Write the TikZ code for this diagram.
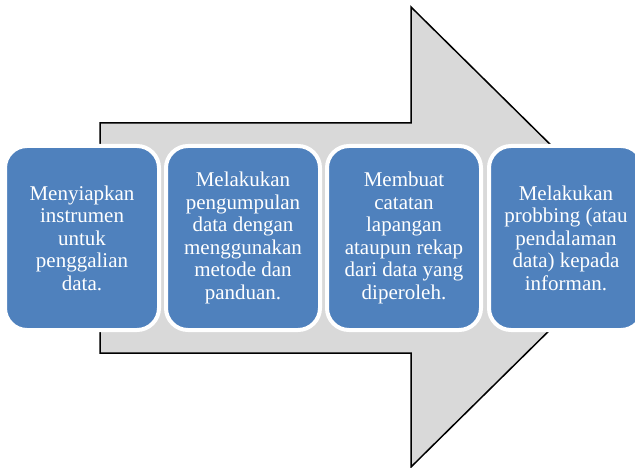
\documentclass[tikz,border=0pt]{standalone}
\usepackage{fontspec}
\setmainfont{Liberation Serif}
\definecolor{boxblue}{HTML}{4F81BD}
\definecolor{arrowgray}{HTML}{D9D9D9}
\begin{document}
\begin{tikzpicture}[x=1pt,y=-1pt,
  stepbox/.style={rectangle, rounded corners=22pt, minimum width=154pt, minimum height=184pt,
    fill=boxblue, draw=white, line width=4pt, text=white, align=center, inner sep=0pt,
    font=\fontsize{21}{22.5}\selectfont}]
\useasboundingbox (0,0) rectangle (635,468);
\filldraw[fill=arrowgray, draw=black, line width=1.5pt, line join=miter]
  (100,123) -- (411,123) -- (411,7) -- (644,237) -- (411,467) -- (411,353) -- (100,353) -- cycle;
\node[stepbox] (s1) at (82,238) {Menyiapkan\\instrumen\\untuk\\penggalian\\data.};
\node[stepbox] (s2) at (243,238) {Melakukan\\pengumpulan\\data dengan\\menggunakan\\metode dan\\panduan.};
\node[stepbox] (s3) at (404,238) {Membuat\\catatan\\lapangan\\ataupun rekap\\dari data yang\\diperoleh.};
\node[stepbox] (s4) at (566,238) {Melakukan\\probbing (atau\\pendalaman\\data) kepada\\informan.};
\end{tikzpicture}
\end{document}
